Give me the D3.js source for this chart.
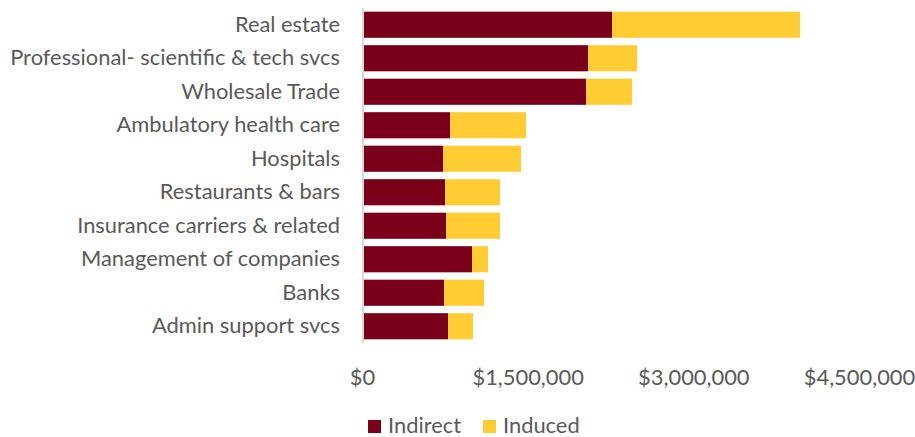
<!DOCTYPE html>
<html><head><meta charset="utf-8">
<script src="https://cdn.jsdelivr.net/npm/d3@7"></script>
<style>body{margin:0;background:#fff}svg{display:block}</style>
</head><body>
<svg id="c" width="915" height="437"></svg>
<script>
const categories = ["Real estate","Professional- scientific & tech svcs","Wholesale Trade","Ambulatory health care","Hospitals","Restaurants & bars","Insurance carriers & related","Management of companies","Banks","Admin support svcs"];
const indirect = [2246000,2029000,2011000,779000,716000,734000,743000,978000,725000,761000];
const induced  = [1703000,444000,417000,688000,706000,498000,489000,145000,362000,226000];
const tickValues = [0,1500000,3000000,4500000];
const seriesNames = ["Indirect","Induced"];
const colors = ["#7A0019","#FFCC33"];

const svg = d3.select("#c");
const font = "Lato, 'Open Sans', sans-serif";
const textColor = "#595959";
const x = d3.scaleLinear().domain([0,4500000]).range([364,861]);
const y = d3.scaleBand().domain(categories).range([8,343]).paddingInner(0.22).paddingOuter(0.11);

const rows = categories.map((c,i)=>({c, a:indirect[i], b:induced[i]}));
const g = svg.append("g");
g.selectAll("rect.ind").data(rows).join("rect")
  .attr("x", x(0)).attr("y", d=>y(d.c)).attr("height", y.bandwidth())
  .attr("width", d=>x(d.a)-x(0)).attr("fill", colors[0]);
g.selectAll("rect.indu").data(rows).join("rect")
  .attr("x", d=>x(d.a)).attr("y", d=>y(d.c)).attr("height", y.bandwidth())
  .attr("width", d=>x(d.a+d.b)-x(d.a)).attr("fill", colors[1]);

// y axis line
svg.append("line").attr("x1",x(0)-1).attr("x2",x(0)-1).attr("y1",8).attr("y2",343)
  .attr("stroke","#d9d9d9").attr("stroke-width",2);

// category labels
const yAxis = d3.axisLeft(y).tickSize(0).tickPadding(0);
const ya = svg.append("g").attr("transform",`translate(340,0)`).call(yAxis);
ya.select(".domain").remove();
ya.selectAll("text").attr("font-family",font).attr("font-size",20).attr("fill",textColor).attr("dy","0.32em");
let maxW = 0; ya.selectAll("text").each(function(){maxW=Math.max(maxW,this.getComputedTextLength());});
const fs = 20*330/maxW;
ya.selectAll("text").attr("font-size",fs);

// x axis labels
const xAxis = d3.axisBottom(x).tickValues(tickValues).tickSize(0).tickPadding(0)
  .tickFormat(d=>"$"+d3.format(",")(d));
const xa = svg.append("g").attr("transform","translate(-2,385)").call(xAxis);
xa.select(".domain").remove();
xa.selectAll("text").attr("font-family",font).attr("font-size",fs).attr("fill",textColor).attr("dy",0);

// legend
const legX = [368,483];
const lg = svg.append("g");
seriesNames.forEach((n,i)=>{
  lg.append("rect").attr("x",legX[i]).attr("y",420).attr("width",13).attr("height",13).attr("fill",colors[i]);
  lg.append("text").attr("x",legX[i]+20).attr("y",433).text(n)
    .attr("font-family",font).attr("font-size",fs).attr("fill",textColor);
});
</script>
</body></html>
